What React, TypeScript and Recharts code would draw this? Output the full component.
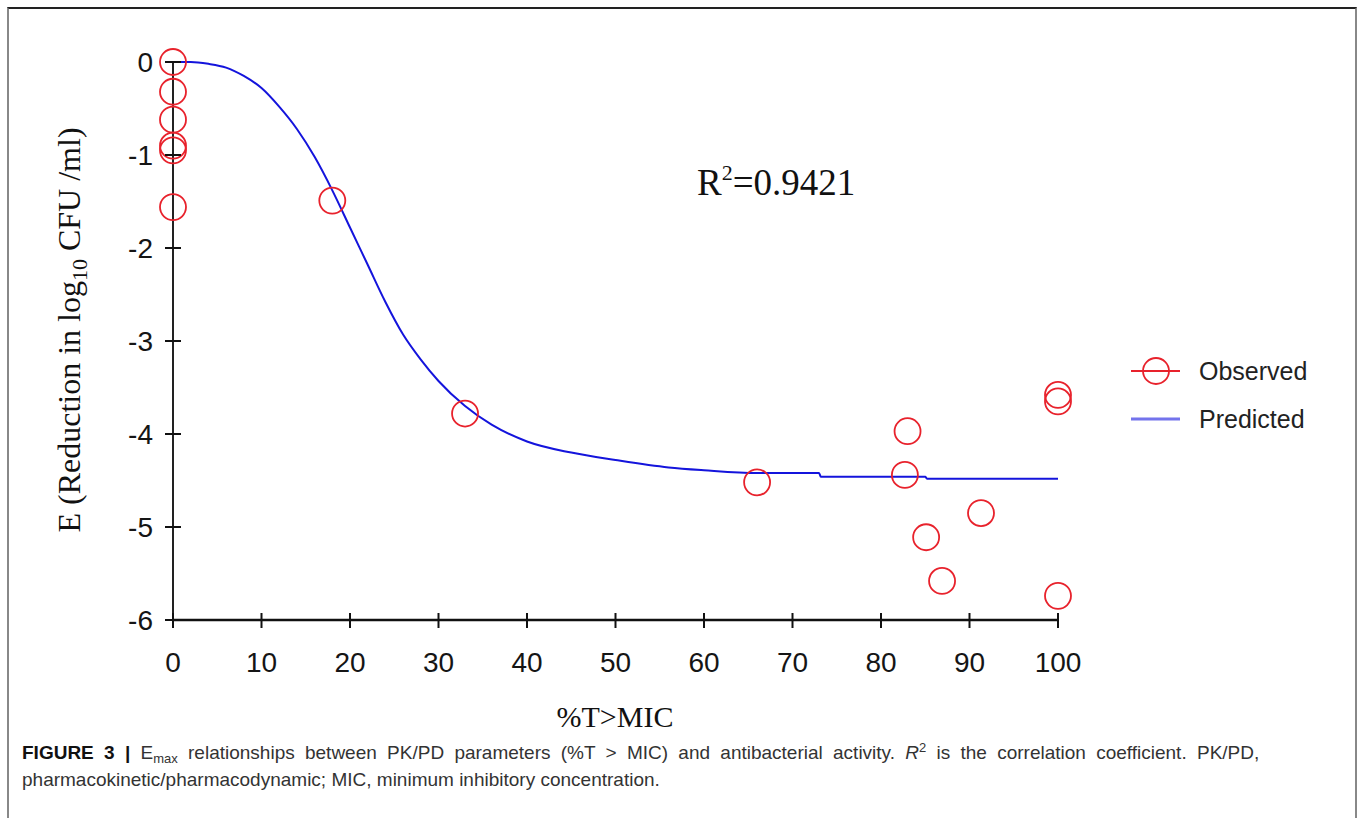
import React from "react";
import { ComposedChart, Line, Scatter, XAxis, YAxis } from "recharts";

// tick labels
const xTicks = [0, 10, 20, 30, 40, 50, 60, 70, 80, 90, 100];
const yTicks = [0, -1, -2, -3, -4, -5, -6];

const observedX = [0, 0, 0, 0, 0, 0, 18, 33, 66, 83, 82.7, 91.3, 85.1, 86.9, 100, 100, 100];
const observedY = [0, -0.32, -0.62, -0.9, -0.95, -1.56, -1.49, -3.78, -4.52, -3.97, -4.44, -4.85, -5.11, -5.58, -3.58, -3.65, -5.74];

// predicted Emax curve
const predictedX = [0, 2, 4, 6, 8, 10, 12, 14, 16, 18, 20, 22, 24, 26, 28, 30, 33, 36, 40, 45, 50, 56, 60, 66, 73, 73.2, 85, 85.2, 100];
const predictedY = [0, 0, -0.02, -0.06, -0.15, -0.28, -0.48, -0.72, -1.02, -1.38, -1.78, -2.18, -2.58, -2.93, -3.2, -3.43, -3.7, -3.9, -4.08, -4.2, -4.28, -4.36, -4.39, -4.42, -4.42, -4.46, -4.46, -4.48, -4.48];

const observed = observedX.map((x, i) => ({ x, y: observedY[i] }));
const predicted = predictedX.map((x, i) => ({ x, y: predictedY[i] }));

const SANS = "'Liberation Sans', Arial, sans-serif";
const SERIF = "'Liberation Serif', 'Times New Roman', serif";
const RED = "#e8222c";

const YTick = ({ x, y, payload }: any) => (
  <g>
    <line x1={x - 8} x2={x + 8} y1={y} y2={y} stroke="#111" strokeWidth={2} />
    <text x={x - 20} y={y} textAnchor="end" dominantBaseline="central" fontSize={28} fontFamily={SANS} fill="#151515">
      {payload.value}
    </text>
  </g>
);

const XTick = ({ x, y, payload }: any) => (
  <g>
    <line x1={x} x2={x} y1={y - 7} y2={y + 8} stroke="#111" strokeWidth={2} />
    <text x={x} y={y + 42} textAnchor="middle" dominantBaseline="central" fontSize={28} fontFamily={SANS} fill="#151515">
      {payload.value}
    </text>
  </g>
);

const Ring = ({ cx, cy }: any) => (
  <circle cx={cx} cy={cy} r={13} fill="none" stroke={RED} strokeWidth={1.8} />
);

export default function App() {
  return (
    <div style={{ position: "absolute", left: 0, top: 0, width: 1362, height: 818, background: "#fff", overflow: "hidden" }}>
      <div
        style={{
          position: "absolute",
          left: 7,
          top: 7,
          width: 1346,
          height: 840,
          borderTop: "2px solid #222",
          borderLeft: "2px solid #888",
          borderRight: "2px solid #888",
        }}
      />
      <div style={{ position: "absolute", left: 0, top: 0 }}>
        <ComposedChart width={1362} height={818} margin={{ top: 62, right: 304, bottom: 158, left: 113 }}>
          <XAxis
            dataKey="x"
            type="number"
            domain={[0, 100]}
            ticks={xTicks}
            height={40}
            tickSize={0}
            tickMargin={0}
            tickLine={false}
            axisLine={{ stroke: "#111", strokeWidth: 2.5 }}
            tick={<XTick />}
            interval={0}
          />
          <YAxis
            dataKey="y"
            type="number"
            domain={[-6, 0]}
            ticks={yTicks}
            width={60}
            tickSize={0}
            tickMargin={0}
            tickLine={false}
            axisLine={{ stroke: "#222", strokeWidth: 2 }}
            tick={<YTick />}
            interval={0}
          />
          <Line
            data={predicted}
            dataKey="y"
            type="monotone"
            stroke="#1414dc"
            strokeWidth={2}
            dot={false}
            isAnimationActive={false}
          />
          <Scatter data={observed} dataKey="y" shape={<Ring />} isAnimationActive={false} />
        </ComposedChart>
      </div>
      <svg width={1362} height={818} style={{ position: "absolute", left: 0, top: 0, pointerEvents: "none" }}>
        <text x={697} y={195} fontSize={37} fontFamily={SERIF} fill="#111">
          R<tspan dy={-15} fontSize={22}>2</tspan>
          <tspan dy={15}>=0.9421</tspan>
        </text>
        <text x={615} y={727} textAnchor="middle" fontSize={30} fontFamily={SERIF} fill="#111">
          %T&gt;MIC
        </text>
        <text transform="translate(80,330) rotate(-90)" textAnchor="middle" fontSize={32} fontFamily={SERIF} fill="#111">
          E (Reduction in log<tspan dy={7} fontSize={22}>10</tspan>
          <tspan dy={-7}> CFU /ml)</tspan>
        </text>
        <line x1={1131} x2={1180} y1={371} y2={371} stroke={RED} strokeWidth={1.8} />
        <circle cx={1156} cy={371} r={13} fill="none" stroke={RED} strokeWidth={1.8} />
        <text x={1199} y={371} dominantBaseline="central" fontSize={25} fontFamily={SANS} fill="#222">
          Observed
        </text>
        <line x1={1131} x2={1180} y1={419} y2={419} stroke="#7373ec" strokeWidth={3} />
        <text x={1199} y={419} dominantBaseline="central" fontSize={25} fontFamily={SANS} fill="#222">
          Predicted
        </text>
        <text x={22} y={759} fontSize={19} wordSpacing={5} fontFamily={SANS} fill="#333">
          <tspan fontWeight="bold" fill="#111">FIGURE 3 |</tspan>
          <tspan> E</tspan>
          <tspan fontSize={13} dy={4}>max</tspan>
          <tspan dy={-4}> relationships between PK/PD parameters (%T &gt; MIC) and antibacterial activity. </tspan>
          <tspan fontStyle="italic">R</tspan>
          <tspan fontSize={13} dy={-7}>2</tspan>
          <tspan dy={7}> is the correlation coefficient. PK/PD,</tspan>
        </text>
        <text x={22} y={786} fontSize={19} fontFamily={SANS} fill="#333">
          pharmacokinetic/pharmacodynamic; MIC, minimum inhibitory concentration.
        </text>
      </svg>
    </div>
  );
}
